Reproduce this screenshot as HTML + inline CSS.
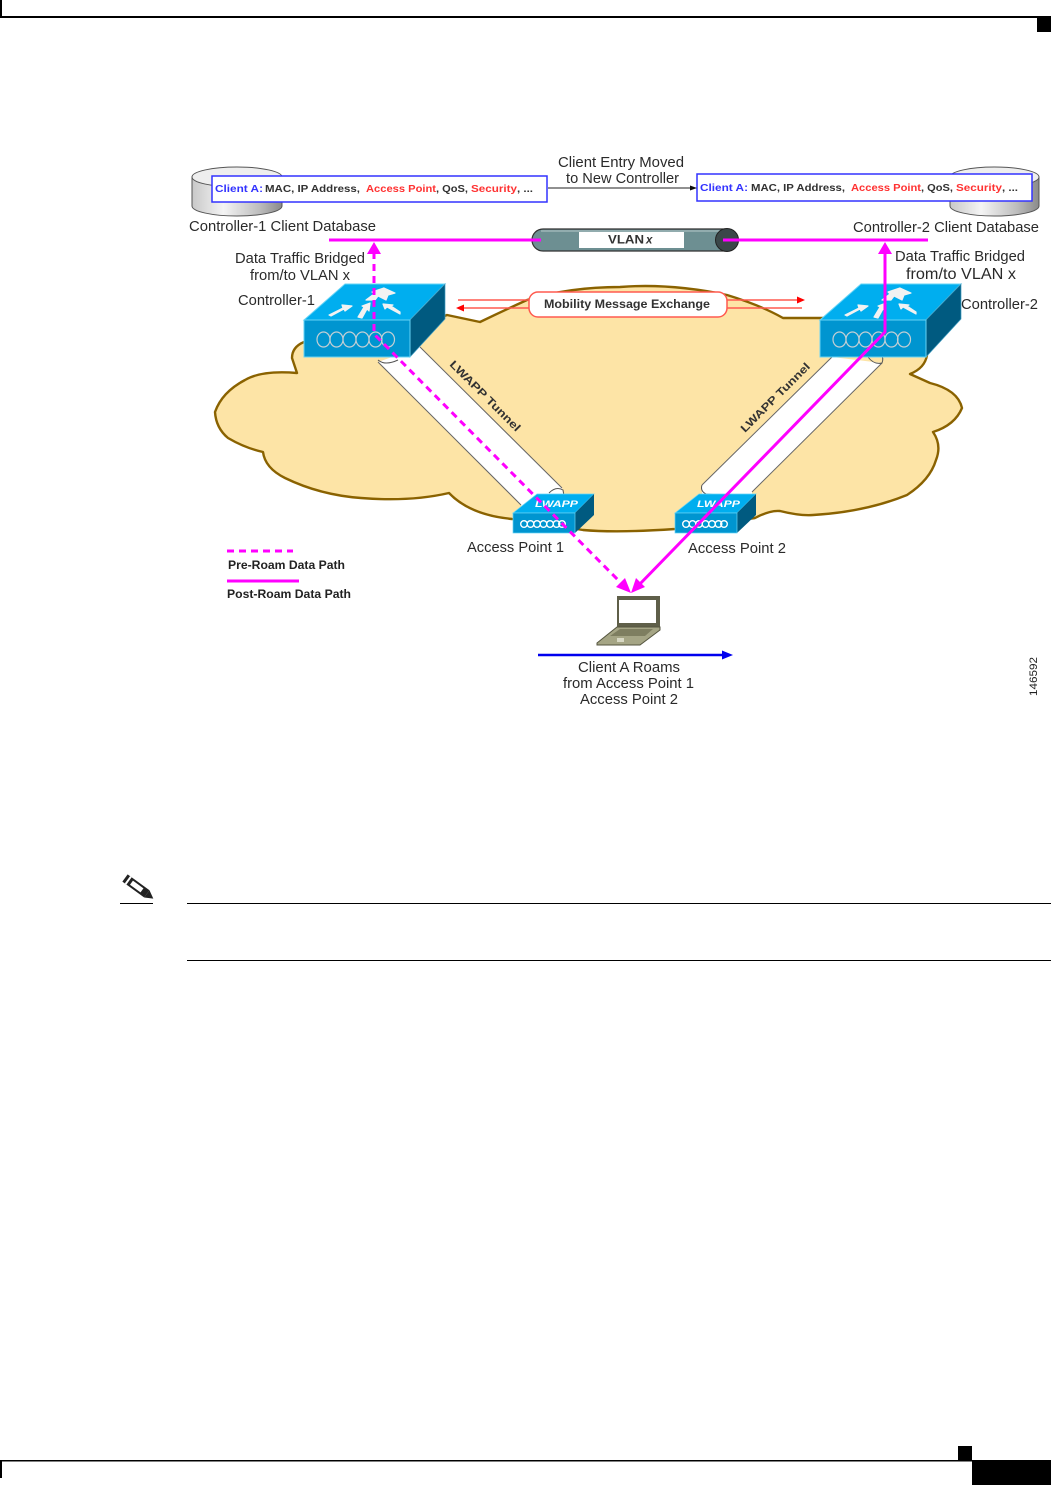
<!DOCTYPE html>
<html lang="en">
<head>
<meta charset="utf-8">
<title>Client roaming between controllers</title>
<style>
html,body{margin:0;padding:0;background:#fff}
svg{display:block;position:absolute;left:0;top:0}
text{font-family:"Liberation Sans",Arial,sans-serif}
.l{font-size:15px;fill:#2a2a2a}
.b{font-size:10.5px;font-weight:bold;fill:#333}
.r{fill:#ff3030}
.c{fill:#3333ff}
.lg{font-size:12px;font-weight:bold;fill:#222}
</style>
</head>
<body>
<svg width="1051" height="1485" viewBox="0 0 1051 1485" xmlns="http://www.w3.org/2000/svg">
<defs>
<filter id="soft" x="0" y="0" width="100%" height="100%"><feGaussianBlur stdDeviation="0.35"/></filter>
<linearGradient id="cyl" x1="0" x2="1" y1="0" y2="0">
<stop offset="0" stop-color="#c8c8c8"/><stop offset=".35" stop-color="#f4f4f4"/><stop offset=".75" stop-color="#bdbdbd"/><stop offset="1" stop-color="#8a8a8a"/>
</linearGradient>
<g id="ctl">
<polygon points="304,320 345,284 445,284 410,320" fill="#00aeef" stroke="#66d4f6" stroke-width="1"/>
<polygon points="410,320 445,284 445,319 410,357" fill="#005a80" stroke="#3f9cc0" stroke-width=".7"/>
<rect x="304" y="320" width="106" height="37" fill="#0095d0" stroke="#66d4f6" stroke-width="1"/>
<g fill="none" stroke="#c4cfd4" stroke-width="1.2">
<ellipse cx="323.500" cy="339.500" rx="6.500" ry="7.500"/><ellipse cx="336.500" cy="339.500" rx="6.500" ry="7.500"/><ellipse cx="349.500" cy="339.500" rx="6.500" ry="7.500"/><ellipse cx="362.500" cy="339.500" rx="6.500" ry="7.500"/><ellipse cx="375.500" cy="339.500" rx="6.500" ry="7.500"/><ellipse cx="388" cy="339.500" rx="6.500" ry="7.500"/>
</g>
<g fill="#f2f2f2" stroke="#f2f2f2" stroke-width="1.200" stroke-linejoin="round">
<polygon points="329,315 343,308 342,305 352,306 345,311 344,309 331,316"/>
<polygon points="358,317 364,307 362,306 370,303 369,311 367,309 362,318"/>
<polygon points="400,314 387,307 385,309 383,304 393,305 391,306 400,312"/>
<polygon points="366,300 374,294 372,292 384,288 395,293 388,295 386,300 378,296 375,300"/>
</g>
</g>
<g id="ap">
<polygon points="513,513 537,494 594,494 575,513" fill="#00aeef" stroke="#66d4f6" stroke-width=".7"/>
<polygon points="575,513 594,494 594,515 575,533" fill="#005a80"/>
<rect x="513" y="513" width="62" height="20" fill="#0095d0" stroke="#66d4f6" stroke-width=".7"/>
<g fill="none" stroke="#fff" stroke-width="1.400">
<circle cx="524" cy="524" r="3.300"/><circle cx="530.500" cy="524" r="3.300"/><circle cx="537" cy="524" r="3.300"/><circle cx="543.500" cy="524" r="3.300"/><circle cx="550" cy="524" r="3.300"/><circle cx="556.500" cy="524" r="3.300"/><circle cx="562" cy="524" r="3.300"/>
</g>
</g>
</defs>

<!-- page furniture -->
<rect x="0" y="0" width="2" height="17" fill="#000"/>
<rect x="0" y="16" width="1051" height="2" fill="#000"/>
<rect x="1037" y="17" width="14" height="15" fill="#000"/>
<rect x="0" y="1460" width="1051" height="1.500" fill="#000"/>
<rect x="0" y="1460" width="2" height="18" fill="#000"/>
<rect x="958" y="1446" width="14" height="14" fill="#000"/>
<rect x="972" y="1460" width="79" height="25" fill="#000"/>

<rect x="187" y="903" width="864" height="1" fill="#000"/>
<rect x="187" y="960" width="864" height="1" fill="#000"/>
<rect x="120" y="903" width="33" height="1" fill="#000"/>
<g transform="translate(125,878) rotate(36)">
<rect x="0" y="-4.500" width="27" height="9" fill="#222"/>
<rect x="8" y="-2.500" width="13" height="5" fill="#fff"/>
<rect x="3" y="-4.500" width="2" height="9" fill="#fff"/>
<polygon points="27,-4.500 35,0 27,4.500" fill="#222"/>
</g>

<g filter="url(#soft)">
<!-- cloud -->
<path d="M304 342 Q292 347 292 358 L297 373 Q262 370 245 380 Q222 392 215 412 Q216 428 228 438 Q245 448 263 452 Q265 468 285 478 Q320 495 361 498 Q410 502 449 493 Q470 515 512 519 L583 530 Q617 533 675 529 L755 518 Q770 510 780 511 Q800 516 813 515 Q865 512 907 495 Q930 480 936 460 Q942 445 933 432 Q955 425 962 408 Q958 390 930 383 L910 374 Q925 368 927 355 L900 320 L823 318 L783 318 Q760 305 727 295 Q670 283 620 287 Q570 287 527 300 Q505 310 480 322 L447 315 L410 330 Z" fill="#fde4a6" stroke="#8a6200" stroke-width="2.400" stroke-linejoin="round"/>

<!-- red mobility lines -->
<line x1="458" y1="300" x2="798" y2="300" stroke="#ff5a50" stroke-width="1.500"/>
<polygon points="805,300 797,296.500 797,303.500" fill="#ff0000"/>
<line x1="463" y1="308" x2="802" y2="308" stroke="#ff5a50" stroke-width="1.500"/>
<polygon points="456,308 464,304.500 464,311.500" fill="#ff0000"/>
<rect x="529" y="292" width="198" height="25" rx="9" fill="#fff" stroke="#ff5a50" stroke-width="1.500"/>
<text x="544" y="308" font-size="11.500" font-weight="bold" fill="#333" textLength="166" lengthAdjust="spacingAndGlyphs">Mobility Message Exchange</text>

<!-- tunnels -->
<polygon points="378,362 420,347 562,488 564,496 530,514 521,505" fill="#fff"/>
<line x1="378" y1="362" x2="521" y2="505" stroke="#666" stroke-width="1"/>
<line x1="420" y1="347" x2="562" y2="488" stroke="#666" stroke-width="1"/>
<path d="M378 360 Q385 366 398 360" fill="none" stroke="#555" stroke-width="1"/>
<path d="M549 493 Q556 486 563 490 L564 496" fill="none" stroke="#555" stroke-width="1"/>
<polygon points="832,357 882,363 752,492 752,498 702,498 702,485" fill="#fff"/>
<line x1="832" y1="357" x2="702" y2="485" stroke="#666" stroke-width="1"/>
<line x1="882" y1="363" x2="752" y2="492" stroke="#666" stroke-width="1"/>
<path d="M868 357 Q874 365 882 363 Q884 358 881 355" fill="none" stroke="#555" stroke-width="1"/>
<path d="M702 485 Q700 491 706 494 L720 495" fill="none" stroke="#555" stroke-width="1"/>
<text transform="translate(449,365) rotate(45)" font-size="11px" font-weight="bold" fill="#333" textLength="95" lengthAdjust="spacingAndGlyphs" x="0" y="0">LWAPP Tunnel</text>
<text transform="translate(745,433) rotate(-45)" font-size="11px" font-weight="bold" fill="#333" textLength="93" lengthAdjust="spacingAndGlyphs" x="0" y="0">LWAPP Tunnel</text>

<!-- devices -->
<use href="#ctl"/>
<use href="#ctl" x="516"/>
<use href="#ap"/>
<use href="#ap" x="162"/>
<text x="535" y="507" font-size="9px" font-weight="bold" font-style="italic" fill="#fff" textLength="43" lengthAdjust="spacingAndGlyphs">LWAPP</text>
<text x="697" y="507" font-size="9px" font-weight="bold" font-style="italic" fill="#fff" textLength="43" lengthAdjust="spacingAndGlyphs">LWAPP</text>

<!-- databases -->
<g stroke="#555" stroke-width="1">
<path d="M192 177 V206 A45 10 0 0 0 282 206 V177 Z" fill="url(#cyl)"/>
<ellipse cx="237" cy="177" rx="45" ry="10" fill="#eee"/>
<path d="M950 177 V206 A44.500 10 0 0 0 1039 206 V177 Z" fill="url(#cyl)"/>
<ellipse cx="994.500" cy="177" rx="44.500" ry="10" fill="#eee"/>
</g>
<rect x="212" y="176" width="335" height="26" fill="#fff" stroke="#3333ff" stroke-width="1.500"/>
<rect x="697" y="174" width="335" height="27" fill="#fff" stroke="#3333ff" stroke-width="1.500"/>
<text x="215" y="192" class="b c" textLength="48" lengthAdjust="spacingAndGlyphs">Client A:</text>
<text x="265" y="192" class="b" textLength="95" lengthAdjust="spacingAndGlyphs">MAC, IP Address,</text>
<text x="366" y="192" class="b r" textLength="70" lengthAdjust="spacingAndGlyphs">Access Point</text>
<text x="436" y="192" class="b" textLength="32" lengthAdjust="spacingAndGlyphs">, QoS,</text>
<text x="471" y="192" class="b r" textLength="46" lengthAdjust="spacingAndGlyphs">Security</text>
<text x="517" y="192" class="b" textLength="16" lengthAdjust="spacingAndGlyphs">, ...</text>
<text x="700" y="191" class="b c" textLength="48" lengthAdjust="spacingAndGlyphs">Client A:</text>
<text x="751" y="191" class="b" textLength="94" lengthAdjust="spacingAndGlyphs">MAC, IP Address,</text>
<text x="851" y="191" class="b r" textLength="70" lengthAdjust="spacingAndGlyphs">Access Point</text>
<text x="921" y="191" class="b" textLength="32" lengthAdjust="spacingAndGlyphs">, QoS,</text>
<text x="956" y="191" class="b r" textLength="46" lengthAdjust="spacingAndGlyphs">Security</text>
<text x="1002" y="191" class="b" textLength="16" lengthAdjust="spacingAndGlyphs">, ...</text>
<line x1="548" y1="188" x2="691" y2="188" stroke="#222" stroke-width="1"/>
<polygon points="697,188 690,185.500 690,190.500" fill="#111"/>

<!-- VLAN tube -->
<rect x="532" y="229" width="206" height="22" rx="11" fill="#6d8f92" stroke="#333" stroke-width="1.200"/>
<line x1="541" y1="231" x2="726" y2="231" stroke="#b7c8ca" stroke-width="1"/>
<circle cx="727" cy="240" r="11.500" fill="#3a4649" stroke="#222" stroke-width="1"/>
<rect x="579" y="232" width="105" height="16" fill="#fff"/>
<text x="608" y="243.500" font-size="11.500" font-weight="bold" fill="#333" textLength="36" lengthAdjust="spacingAndGlyphs">VLAN</text>
<text x="646" y="243.500" font-size="11.500" font-weight="bold" font-style="italic" fill="#333">x</text>

<!-- data paths -->
<line x1="329" y1="240" x2="541" y2="240" stroke="#ff00ff" stroke-width="3"/>
<line x1="723" y1="240" x2="928" y2="240" stroke="#ff00ff" stroke-width="3"/>
<polygon points="374,242 367,254 381,254" fill="#ff00ff"/>
<polygon points="885,242 878,254 892,254" fill="#ff00ff"/>
<path d="M374 252 V333 L376 336 L626 588" fill="none" stroke="#ff00ff" stroke-width="3" stroke-dasharray="7 5"/>
<path d="M885 252 V332 L637 587" fill="none" stroke="#ff00ff" stroke-width="3"/>
<polygon points="631,593 616,587 625,578" fill="#ff00ff"/>
<polygon points="631,593 645,587 636,578" fill="#ff00ff"/>

<!-- laptop -->
<rect x="617" y="596" width="43" height="31" fill="#5f5f48"/>
<rect x="619" y="600" width="37" height="23" fill="#fff"/>
<polygon points="597,643 617,627 660,627 660,630 640,645 597,645" fill="#a5a585" stroke="#55553f" stroke-width="1"/>
<polygon points="610,636 620,629 653,629 645,636" fill="#7e7e60"/>
<rect x="617" y="638" width="7" height="4" fill="#d8d8c4"/>

<!-- blue arrow -->
<line x1="538" y1="655" x2="724" y2="655" stroke="#0000ee" stroke-width="2.500"/>
<polygon points="733,655 722,650.500 722,659.500" fill="#0000ee"/>

<!-- labels -->
<text x="558" y="167" class="l" textLength="126" lengthAdjust="spacingAndGlyphs">Client Entry Moved</text>
<text x="566" y="183" class="l" textLength="113" lengthAdjust="spacingAndGlyphs">to New Controller</text>
<text x="189" y="231" class="l" textLength="187" lengthAdjust="spacingAndGlyphs">Controller-1 Client Database</text>
<text x="853" y="232" class="l" textLength="186" lengthAdjust="spacingAndGlyphs">Controller-2 Client Database</text>
<text x="235" y="263" class="l" textLength="130" lengthAdjust="spacingAndGlyphs">Data Traffic Bridged</text>
<text x="250" y="280" class="l" textLength="100" lengthAdjust="spacingAndGlyphs">from/to VLAN x</text>
<text x="895" y="261" class="l" textLength="130" lengthAdjust="spacingAndGlyphs">Data Traffic Bridged</text>
<text x="906" y="279" class="l" style="font-size:16px" textLength="110" lengthAdjust="spacingAndGlyphs">from/to VLAN x</text>
<text x="238" y="305" class="l" textLength="77" lengthAdjust="spacingAndGlyphs">Controller-1</text>
<text x="961" y="309" class="l" textLength="77" lengthAdjust="spacingAndGlyphs">Controller-2</text>
<text x="467" y="552" class="l" textLength="97" lengthAdjust="spacingAndGlyphs">Access Point 1</text>
<text x="688" y="553" class="l" textLength="98" lengthAdjust="spacingAndGlyphs">Access Point 2</text>
<text x="578" y="672" class="l" textLength="102" lengthAdjust="spacingAndGlyphs">Client A Roams</text>
<text x="563" y="688" class="l" textLength="131" lengthAdjust="spacingAndGlyphs">from Access Point 1</text>
<text x="580" y="704" class="l" textLength="98" lengthAdjust="spacingAndGlyphs">Access Point 2</text>

<!-- legend -->
<line x1="227" y1="551" x2="293" y2="551" stroke="#ff00ff" stroke-width="3" stroke-dasharray="7 5"/>
<line x1="227" y1="581" x2="299" y2="581" stroke="#ff00ff" stroke-width="3"/>
<text x="228" y="569" class="lg" textLength="117" lengthAdjust="spacingAndGlyphs">Pre-Roam Data Path</text>
<text x="227" y="598" class="lg" textLength="124" lengthAdjust="spacingAndGlyphs">Post-Roam Data Path</text>

<text transform="translate(1037,696) rotate(-90)" x="0" y="0" font-size="11px" fill="#222" textLength="39" lengthAdjust="spacingAndGlyphs">146592</text>
</g>
</svg>
</body>
</html>
